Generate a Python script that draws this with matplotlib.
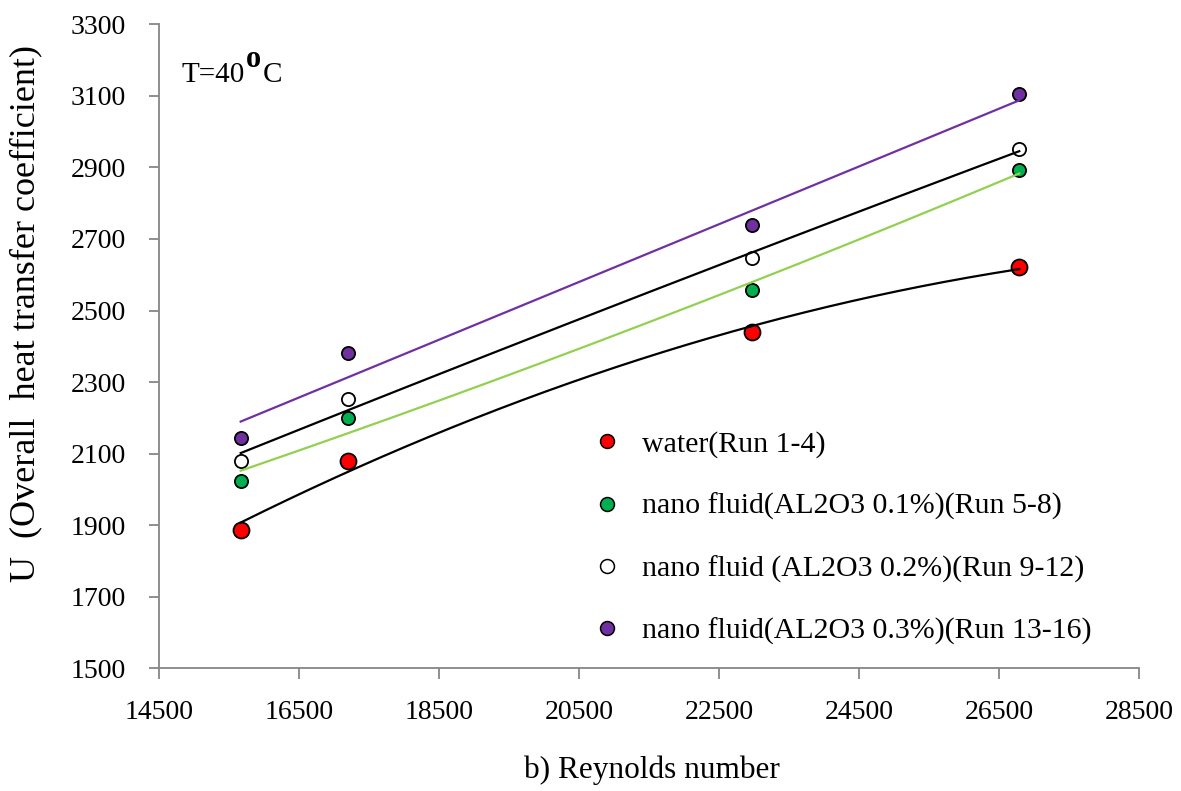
import numpy as np
import matplotlib
matplotlib.use("Agg")
import matplotlib.pyplot as plt

plt.rcParams['font.family'] = ['Liberation Serif', 'DejaVu Serif']

# Data
reynolds = [15663, 17196, 22974, 26789]
water = [1887, 2079, 2441, 2622]
nano01 = [2023, 2200, 2557, 2892]
nano02 = [2080, 2253, 2646, 2952]
nano03 = [2144, 2382, 2740, 3104]

labels = ["water(Run 1-4)",
          "nano fluid(AL2O3 0.1%)(Run 5-8)",
          "nano fluid (AL2O3 0.2%)(Run 9-12)",
          "nano fluid(AL2O3 0.3%)(Run 13-16)"]
series = [water, nano01, nano02, nano03]
face_colors = ["#FF0000", "#00B050", "#FFFFFF", "#7030A0"]
trend_colors = ["#000000", "#92D050", "#000000", "#7030A0"]
trend_deg = [2, 2, 2, 1]
marker_sizes = [11.5, 9.5, 9.5, 9.5]

xticks = list(range(14500, 28501, 2000))
yticks = list(range(1500, 3301, 200))

W, H = 1181, 791
fig = plt.figure(figsize=(W / 100, H / 100), dpi=100)
ax = fig.add_axes([159.3 / W, 1 - 668.3 / H, (1139 - 159.3) / W, (668.3 - 24.3) / H])

x = np.array(reynolds, dtype=float)
xs = np.linspace(x.min(), x.max(), 200)
for yv, fc, tc, deg, ms, lab in zip(series, face_colors, trend_colors, trend_deg, marker_sizes, labels):
    yv = np.array(yv, dtype=float)
    coef = np.polyfit(x, yv, deg)
    ax.plot(xs, np.polyval(coef, xs), color=tc, lw=1.6, zorder=4)
    ax.plot(x, yv, linestyle='none', marker='o', markersize=ms,
            markerfacecolor=fc, markeredgecolor='black', markeredgewidth=1.3,
            zorder=3)

ax.set_xlim(14500, 28500)
ax.set_ylim(1500, 3300)
ax.set_xticks(xticks)
ax.set_yticks(yticks)
ax.tick_params(axis='both', direction='out', color='#868686', width=1.3,
               labelsize=20)
ax.tick_params(axis='y', length=7, pad=17)
ax.tick_params(axis='x', length=8, pad=15)
for s in ['top', 'right']:
    ax.spines[s].set_visible(False)
for s in ['left', 'bottom']:
    ax.spines[s].set_color('#868686')
    ax.spines[s].set_linewidth(1.3)

fig.text(652 / W, 1 - 770 / H, "b) Reynolds number", fontsize=22.5,
         ha='center', va='center')
fig.text(26 / W, 1 - 314 / H, "U  (Overall  heat transfer coefficient)",
         fontsize=26, rotation=90, ha='center', va='center')

# T=40°C annotation
fig.text(182 / W, 1 - 82 / H, "T=40", fontsize=21, ha='left', va='baseline')
fig.text(246 / W, 1 - 67 / H, "o", fontsize=22, fontweight='bold',
         ha='left', va='baseline')
fig.text(263 / W, 1 - 82 / H, "C", fontsize=21, ha='left', va='baseline')

leg_handles = []
for fc, lab in zip(face_colors, labels):
    h, = ax.plot([], [], linestyle='none', marker='o', markersize=10,
                 markerfacecolor=fc, markeredgecolor='black', markeredgewidth=1.1,
                 label=lab)
    leg_handles.append(h)
ax.legend(handles=leg_handles, loc='upper left',
          bbox_to_anchor=(577 / W, 1 - 416 / H), bbox_transform=fig.transFigure,
          frameon=False, fontsize=21.5, handlelength=1.0, handletextpad=0.66,
          labelspacing=1.17, borderpad=0)

fig.savefig("out.png", dpi=100, facecolor='white')
